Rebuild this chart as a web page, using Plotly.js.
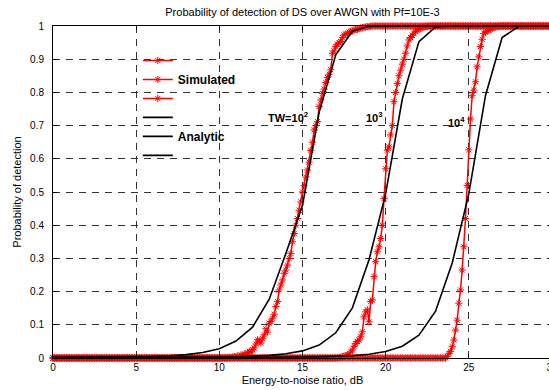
<!DOCTYPE html>
<html>
<head>
<meta charset="utf-8">
<script src="https://cdn.plot.ly/plotly-3.0.1.min.js"></script>
<style>
html,body{margin:0;padding:0;overflow:hidden;background:#fff;}
#chart{width:552px;height:390px;}
</style>
</head>
<body>
<div id="chart"></div>
<script>
// Analytic curves, sampled at integer dB
const snrA = [0,1,2,3,4,5,6,7,8,9,10,11,12,13,14,15,16,17,18,19,20,21,22,23,24,25,26,27,28,29,30];
const pdA100 = [0.0015,0.0017,0.002,0.0024,0.0029,0.0036,0.0048,0.0068,0.0103,0.0165,0.028,0.051,0.093,0.177,0.315,0.46,0.74,0.913,0.984,0.999,1,1,1,1,1,1,1,1,1,1,1];
const pdA1000 = [0.0011,0.0011,0.0012,0.0012,0.0013,0.0014,0.0016,0.0018,0.002,0.0024,0.003,0.0039,0.0054,0.008,0.0126,0.0214,0.039,0.076,0.151,0.296,0.495,0.78,0.953,0.997,1,1,1,1,1,1,1];
const pdA10000 = [0.001,0.001,0.0011,0.0011,0.0011,0.0011,0.0011,0.0012,0.0012,0.0013,0.0014,0.0015,0.0017,0.002,0.0023,0.0028,0.0037,0.005,0.0073,0.0114,0.0193,0.0353,0.069,0.141,0.286,0.495,0.79,0.965,0.999,1,1];

// Simulated curves, 0.1 dB steps
const snrS = [
0,0.1,0.2,0.3,0.4,0.5,0.6,0.7,0.8,0.9,
1,1.1,1.2,1.3,1.4,1.5,1.6,1.7,1.8,1.9,
2,2.1,2.2,2.3,2.4,2.5,2.6,2.7,2.8,2.9,
3,3.1,3.2,3.3,3.4,3.5,3.6,3.7,3.8,3.9,
4,4.1,4.2,4.3,4.4,4.5,4.6,4.7,4.8,4.9,
5,5.1,5.2,5.3,5.4,5.5,5.6,5.7,5.8,5.9,
6,6.1,6.2,6.3,6.4,6.5,6.6,6.7,6.8,6.9,
7,7.1,7.2,7.3,7.4,7.5,7.6,7.7,7.8,7.9,
8,8.1,8.2,8.3,8.4,8.5,8.6,8.7,8.8,8.9,
9,9.1,9.2,9.3,9.4,9.5,9.6,9.7,9.8,9.9,
10,10.1,10.2,10.3,10.4,10.5,10.6,10.7,10.8,10.9,
11,11.1,11.2,11.3,11.4,11.5,11.6,11.7,11.8,11.9,
12,12.1,12.2,12.3,12.4,12.5,12.6,12.7,12.8,12.9,
13,13.1,13.2,13.3,13.4,13.5,13.6,13.7,13.8,13.9,
14,14.1,14.2,14.3,14.4,14.5,14.6,14.7,14.8,14.9,
15,15.1,15.2,15.3,15.4,15.5,15.6,15.7,15.8,15.9,
16,16.1,16.2,16.3,16.4,16.5,16.6,16.7,16.8,16.9,
17,17.1,17.2,17.3,17.4,17.5,17.6,17.7,17.8,17.9,
18,18.1,18.2,18.3,18.4,18.5,18.6,18.7,18.8,18.9,
19,19.1,19.2,19.3,19.4,19.5,19.6,19.7,19.8,19.9,
20,20.1,20.2,20.3,20.4,20.5,20.6,20.7,20.8,20.9,
21,21.1,21.2,21.3,21.4,21.5,21.6,21.7,21.8,21.9,
22,22.1,22.2,22.3,22.4,22.5,22.6,22.7,22.8,22.9,
23,23.1,23.2,23.3,23.4,23.5,23.6,23.7,23.8,23.9,
24,24.1,24.2,24.3,24.4,24.5,24.6,24.7,24.8,24.9,
25,25.1,25.2,25.3,25.4,25.5,25.6,25.7,25.8,25.9,
26,26.1,26.2,26.3,26.4,26.5,26.6,26.7,26.8,26.9,
27,27.1,27.2,27.3,27.4,27.5,27.6,27.7,27.8,27.9,
28,28.1,28.2,28.3,28.4,28.5,28.6,28.7,28.8,28.9,
29,29.1,29.2,29.3,29.4,29.5,29.6,29.7,29.8,29.9,
30];
const pdS100 = [
0,0,0,0,0,0,0,0,0,0,
0,0,0,0,0,0,0,0,0,0,
0,0,0,0,0,0,0,0,0,0,
0,0,0,0,0,0,0,0,0,0,
0,0,0,0,0,0,0,0,0,0,
0,0,0,0,0,0,0,0,0,0,
0,0,0,0,0,0,0,0,0,0,
0,0,0,0,0,0,0,0,0,0,
0,0,0,0,0,0,0,0,0,0,
0,0,0,0,0,0,0,0,0,0,
0,0,0,0,0,0.001,0.002,0.001,0.003,0.004,
0.003,0.006,0.005,0.009,0.008,0.012,0.01,0.016,0.02,0.018,
0.025,0.03,0.042,0.055,0.05,0.045,0.058,0.07,0.088,0.078,
0.105,0.11,0.12,0.132,0.155,0.17,0.205,0.22,0.235,0.255,
0.265,0.28,0.3,0.315,0.35,0.375,0.4,0.42,0.445,0.47,
0.5,0.52,0.545,0.566,0.59,0.625,0.65,0.687,0.7,0.712,
0.757,0.777,0.797,0.81,0.83,0.845,0.855,0.868,0.918,0.925,
0.938,0.945,0.95,0.953,0.965,0.973,0.975,0.978,0.982,0.983,
0.985,0.988,0.99,0.989,0.992,0.994,0.995,0.996,0.997,0.998,
0.998,0.999,1,1,1,1,1,1,1,1,
1,1,1,1,1,1,1,1,1,1,
1,1,1,1,1,1,1,1,1,1,
1,1,1,1,1,1,1,1,1,1,
1,1,1,1,1,1,1,1,1,1,
1,1,1,1,1,1,1,1,1,1,
1,1,1,1,1,1,1,1,1,1,
1,1,1,1,1,1,1,1,1,1,
1,1,1,1,1,1,1,1,1,1,
1,1,1,1,1,1,1,1,1,1,
1,1,1,1,1,1,1,1,1,1,
1];
const pdS1000 = [
0,0,0,0,0,0,0,0,0,0,
0,0,0,0,0,0,0,0,0,0,
0,0,0,0,0,0,0,0,0,0,
0,0,0,0,0,0,0,0,0,0,
0,0,0,0,0,0,0,0,0,0,
0,0,0,0,0,0,0,0,0,0,
0,0,0,0,0,0,0,0,0,0,
0,0,0,0,0,0,0,0,0,0,
0,0,0,0,0,0,0,0,0,0,
0,0,0,0,0,0,0,0,0,0,
0,0,0,0,0,0,0,0,0,0,
0,0,0,0,0,0,0,0,0,0,
0,0,0,0,0,0,0,0,0,0,
0,0,0,0,0,0,0,0,0,0,
0,0,0,0,0,0,0,0,0,0,
0,0,0,0,0,0,0,0,0,0,
0,0,0,0,0,0,0,0,0,0,
0,0.001,0.002,0.002,0.004,0.005,0.007,0.01,0.009,0.018,
0.024,0.035,0.044,0.05,0.054,0.064,0.079,0.124,0.139,0.145,
0.109,0.17,0.175,0.245,0.29,0.32,0.335,0.36,0.4,0.48,
0.57,0.626,0.636,0.672,0.7,0.772,0.8,0.827,0.85,0.867,
0.885,0.9,0.918,0.94,0.958,0.965,0.972,0.978,0.984,0.988,
0.99,0.993,0.995,0.997,0.998,0.999,1,1,1,1,
1,1,1,1,1,1,1,1,1,1,
1,1,1,1,1,1,1,1,1,1,
1,1,1,1,1,1,1,1,1,1,
1,1,1,1,1,1,1,1,1,1,
1,1,1,1,1,1,1,1,1,1,
1,1,1,1,1,1,1,1,1,1,
1,1,1,1,1,1,1,1,1,1,
1];
const pdS10000 = [
0,0,0,0,0,0,0,0,0,0,
0,0,0,0,0,0,0,0,0,0,
0,0,0,0,0,0,0,0,0,0,
0,0,0,0,0,0,0,0,0,0,
0,0,0,0,0,0,0,0,0,0,
0,0,0,0,0,0,0,0,0,0,
0,0,0,0,0,0,0,0,0,0,
0,0,0,0,0,0,0,0,0,0,
0,0,0,0,0,0,0,0,0,0,
0,0,0,0,0,0,0,0,0,0,
0,0,0,0,0,0,0,0,0,0,
0,0,0,0,0,0,0,0,0,0,
0,0,0,0,0,0,0,0,0,0,
0,0,0,0,0,0,0,0,0,0,
0,0,0,0,0,0,0,0,0,0,
0,0,0,0,0,0,0,0,0,0,
0,0,0,0,0,0,0,0,0,0,
0,0,0,0,0,0,0,0,0,0,
0,0,0,0,0,0,0,0,0,0,
0,0,0,0,0,0,0,0,0,0,
0,0,0,0,0,0,0,0,0,0,
0,0,0,0,0,0,0,0,0,0,
0,0,0,0,0,0,0,0,0,0,
0,0,0,0,0,0,0,0.005,0.014,0.02,
0.034,0.054,0.084,0.114,0.165,0.205,0.265,0.335,0.42,0.52,
0.627,0.72,0.79,0.807,0.832,0.877,0.907,0.938,0.96,0.978,
0.982,0.985,0.987,0.99,0.993,0.995,0.997,0.998,0.999,1,
1,1,1,1,1,1,1,1,1,1,
1,1,1,1,1,1,1,1,1,1,
1,1,1,1,1,1,1,1,1,1,
1];

const simNames = [' ', 'Simulated', '  '];
const anaNames = ['   ', 'Analytic', '    '];
const twLabels = ['TW=10<sup>2</sup>', '10<sup>3</sup>', '10<sup>4</sup>'];
const twLabelX = [14.1, 19.3, 24.25];
const twLabelY = [0.725, 0.725, 0.71];

const FONT = '"Liberation Sans", Arial, Helvetica, sans-serif';
const simY = [pdS100, pdS1000, pdS10000];
const anaY = [pdA100, pdA1000, pdA10000];

const traces = [];
simY.forEach((y, i) => {
  traces.push({
    x: snrS, y: y, type: 'scatter', mode: 'lines+markers', name: simNames[i],
    line: {color: '#ff0000', width: 1.5},
    marker: {symbol: 'asterisk-open', size: 6, color: '#ff0000', line: {color: '#ff0000', width: 1}},
    cliponaxis: false
  });
});
anaY.forEach((y, i) => {
  traces.push({
    x: snrA, y: y, type: 'scatter', mode: 'lines', name: anaNames[i],
    line: {color: '#000000', width: 1.6},
    cliponaxis: false
  });
});

const annotations = twLabels.map((t, i) => ({
  x: twLabelX[i], y: twLabelY[i], xref: 'x', yref: 'y', text: '<b>' + t + '</b>',
  showarrow: false, font: {family: FONT, size: 11, color: '#000'}
}));

const axisCommon = {
  showline: true, linecolor: '#000', linewidth: 1, mirror: 'ticks',
  ticks: 'inside', ticklen: 4, tickcolor: '#000', tickwidth: 1,
  showgrid: true, gridcolor: '#333', gridwidth: 1, griddash: '7px,6px',
  zeroline: false, tickfont: {family: FONT, size: 10, color: '#000'}
};

const layout = {
  width: 552, height: 390,
  margin: {l: 53, r: 0, t: 26, b: 32, pad: 0},
  paper_bgcolor: '#fff', plot_bgcolor: '#fff',
  title: {text: 'Probability of detection of DS over AWGN with Pf=10E-3',
          font: {family: FONT, size: 11, color: '#000'},
          x: 0.5, xref: 'paper', xanchor: 'center', y: 1 - 12/390, yref: 'container', yanchor: 'middle'},
  xaxis: Object.assign({}, axisCommon, {
    range: [0, 30], tickmode: 'linear', tick0: 0, dtick: 5,
    ticklabeloverflow: 'allow',
    title: {text: 'Energy-to-noise ratio, dB', font: {family: FONT, size: 11, color: '#000'}, standoff: 4}
  }),
  yaxis: Object.assign({}, axisCommon, {
    range: [0, 1], tickmode: 'linear', tick0: 0, dtick: 0.1,
    ticklabelstandoff: 6,
    title: {text: 'Probability of detection', font: {family: FONT, size: 11, color: '#000'}, standoff: 6}
  }),
  showlegend: true,
  legend: {x: 0.17, xanchor: 'left', y: 0.94, yanchor: 'top',
           bgcolor: 'rgba(0,0,0,0)', borderwidth: 0,
           font: {family: FONT, size: 12, color: '#000', weight: 'bold'},
           traceorder: 'normal'},
  annotations: annotations
};

Plotly.newPlot('chart', traces, layout, {displayModeBar: false, staticPlot: true});
</script>
</body>
</html>
